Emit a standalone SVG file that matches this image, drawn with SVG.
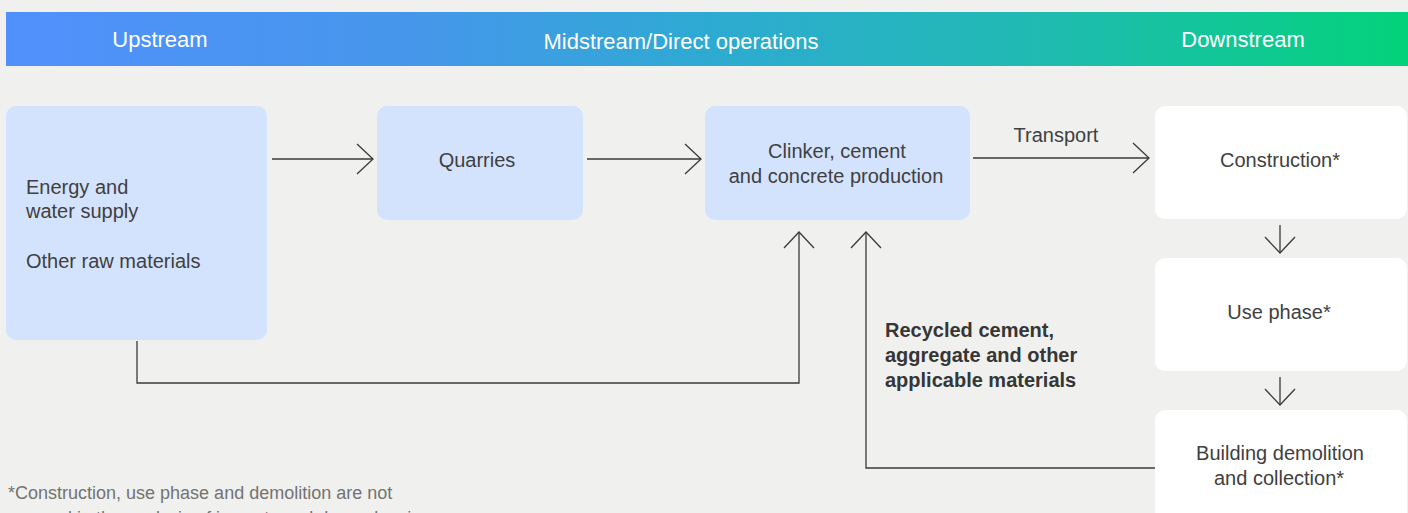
<svg xmlns="http://www.w3.org/2000/svg" width="1408" height="513" viewBox="0 0 1408 513">
  <defs>
    <linearGradient id="band" x1="0" y1="0" x2="1" y2="0">
      <stop offset="0" stop-color="#5190fc"/>
      <stop offset="0.3" stop-color="#4597ea"/>
      <stop offset="0.5" stop-color="#2eaad2"/>
      <stop offset="0.75" stop-color="#1fbcb0"/>
      <stop offset="1" stop-color="#02d27a"/>
    </linearGradient>
    <marker id="chev" viewBox="0 0 20 32" refX="17" refY="16" markerWidth="20" markerHeight="32" markerUnits="userSpaceOnUse" orient="auto">
      <path d="M1 1 L17 16 L1 31" fill="none" stroke="#3a3a3a" stroke-width="1.3"/>
    </marker>
    <style>
      .band-label { font-family: "Liberation Sans", Arial, sans-serif; font-size: 22px; fill: #ffffff; text-anchor: middle; }
      .mid { fill: #d4e3fd; }
      .down { fill: #ffffff; }
      .lbl { font-family: "Liberation Sans", Arial, sans-serif; font-size: 20px; fill: #404040; }
      .c { text-anchor: middle; }
      .bold { font-family: "Liberation Sans", Arial, sans-serif; font-size: 20px; font-weight: bold; fill: #363636; }
      .note { font-family: "Liberation Sans", Arial, sans-serif; font-size: 18px; fill: #737373; }
      .flow { fill: none; stroke: #3a3a3a; stroke-width: 1.3; }
      .arrow { marker-end: url(#chev); }
    </style>
  </defs>

  <rect width="1408" height="513" fill="#f0f0ee"/>

  <!-- value chain band -->
  <g id="band-header">
    <rect x="6" y="12" width="1402" height="54" fill="url(#band)"/>
    <text class="band-label" x="160" y="47">Upstream</text>
    <text class="band-label" x="681" y="49">Midstream/Direct operations</text>
    <text class="band-label" x="1243" y="47">Downstream</text>
  </g>

  <!-- connectors -->
  <g id="connectors">
    <line class="flow arrow" x1="272" y1="159" x2="373" y2="159"/>
    <line class="flow arrow" x1="587" y1="159" x2="701" y2="159"/>
    <line class="flow arrow" x1="973" y1="158" x2="1149" y2="158"/>
    <text class="lbl c" x="1056" y="142">Transport</text>
    <line class="flow arrow" x1="1280" y1="225" x2="1280" y2="253"/>
    <line class="flow arrow" x1="1280" y1="377" x2="1280" y2="405"/>
    <polyline class="flow arrow" points="137,341 137,383 799,383 799,232"/>
    <polyline class="flow arrow" points="1155,468 866,468 866,232"/>
    <text class="bold" x="885" y="337">Recycled cement,</text>
    <text class="bold" x="885" y="362">aggregate and other</text>
    <text class="bold" x="885" y="387">applicable materials</text>
  </g>

  <g id="node-upstream">
    <rect class="mid" x="6" y="106" width="261" height="234" rx="10"/>
    <text class="lbl" x="26" y="194">Energy and</text>
    <text class="lbl" x="26" y="218">water supply</text>
    <text class="lbl" x="26" y="268">Other raw materials</text>
  </g>

  <g id="node-quarries">
    <rect class="mid" x="377" y="106" width="206" height="114" rx="10"/>
    <text class="lbl c" x="477" y="167">Quarries</text>
  </g>

  <g id="node-production">
    <rect class="mid" x="705" y="106" width="265" height="114" rx="10"/>
    <text class="lbl c" x="837" y="158">Clinker, cement</text>
    <text class="lbl c" x="836" y="183">and concrete production</text>
  </g>

  <g id="node-construction">
    <rect class="down" x="1155" y="106" width="252" height="113" rx="10"/>
    <text class="lbl c" x="1280" y="167">Construction*</text>
  </g>

  <g id="node-use">
    <rect class="down" x="1155" y="258" width="252" height="113" rx="10"/>
    <text class="lbl c" x="1279" y="319">Use phase*</text>
  </g>

  <g id="node-demolition">
    <rect class="down" x="1155" y="410" width="252" height="120" rx="10"/>
    <text class="lbl c" x="1280" y="460">Building demolition</text>
    <text class="lbl c" x="1279" y="485">and collection*</text>
  </g>

  <!-- footnote -->
  <g id="footnote">
    <text class="note" x="8" y="499">*Construction, use phase and demolition are not</text>
    <text class="note" x="8" y="524">covered in the analysis of impacts and dependencies</text>
  </g>
</svg>
